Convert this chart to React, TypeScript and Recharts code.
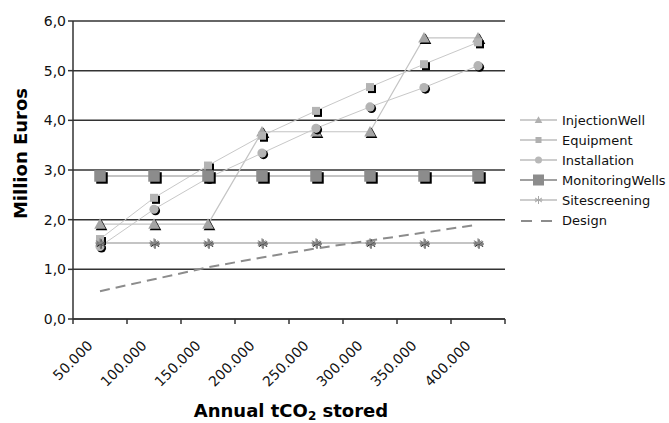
import React from 'react';
import { LineChart, Line, XAxis, YAxis, CartesianGrid, Legend } from 'recharts';

const categories = ['50.000', '100.000', '150.000', '200.000', '250.000', '300.000', '350.000', '400.000'];
const injectionWell = [1.91, 1.91, 1.91, 3.77, 3.77, 3.77, 5.66, 5.66];
const equipment = [1.61, 2.44, 3.09, 3.69, 4.19, 4.67, 5.13, 5.57];
const installation = [1.46, 2.21, 2.84, 3.34, 3.84, 4.27, 4.66, 5.1];
const monitoringWells = [2.88, 2.88, 2.88, 2.88, 2.88, 2.88, 2.88, 2.88];
const sitescreening = [1.53, 1.53, 1.53, 1.53, 1.53, 1.53, 1.53, 1.53];
const design = [0.56, 0.8, 1.04, 1.24, 1.42, 1.58, 1.74, 1.9];
const yTicks = [0, 1, 2, 3, 4, 5, 6];
const seriesNames = ['InjectionWell', 'Equipment', 'Installation', 'MonitoringWells', 'Sitescreening', 'Design'];

const data = categories.map((label, i) => ({
  label,
  InjectionWell: injectionWell[i],
  Equipment: equipment[i],
  Installation: installation[i],
  MonitoringWells: monitoringWells[i],
  Sitescreening: sitescreening[i],
  Design: design[i],
}));

const FONT = '"DejaVu Sans", Verdana, sans-serif';
const W = 669;
const H = 423;
const MARGIN = { top: 21, right: 15, bottom: 0, left: 0 };
const LEGEND_W = 149;
const Y_AXIS_W = 73;
const X_AXIS_H = 104;
const PLOT_LEFT = MARGIN.left + Y_AXIS_W;
const PLOT_RIGHT = W - MARGIN.right - LEGEND_W;
const PLOT_BOTTOM = H - MARGIN.bottom - X_AXIS_H;
const HALF_BAND = (PLOT_RIGHT - PLOT_LEFT) / categories.length / 2;
const AXIS_COLOR = '#333';

const XTick = (props: any) => {
  const { x, payload, index } = props;
  const lx = x - 6.5;
  const ly = PLOT_BOTTOM + 27.5;
  return (
    <g>
      <line x1={x - HALF_BAND} x2={x - HALF_BAND} y1={PLOT_BOTTOM} y2={PLOT_BOTTOM + 5} stroke={AXIS_COLOR} strokeWidth={1.5} />
      {index === categories.length - 1 && (
        <line x1={x + HALF_BAND} x2={x + HALF_BAND} y1={PLOT_BOTTOM} y2={PLOT_BOTTOM + 5} stroke={AXIS_COLOR} strokeWidth={1.5} />
      )}
      <text x={lx} y={ly} textAnchor="end" transform={`rotate(-45 ${lx} ${ly})`} fontSize={14} fontFamily={FONT} fill="#111">
        {payload.value}
      </text>
    </g>
  );
};

const YLabel = (props: any) => {
  const vb = props.viewBox || { x: 0, y: MARGIN.top, width: Y_AXIS_W, height: PLOT_BOTTOM - MARGIN.top };
  const cx = vb.x + 20.5;
  const cy = vb.y + vb.height / 2 - 16.5;
  return (
    <text x={cx} y={cy} transform={`rotate(-90 ${cx} ${cy})`} textAnchor="middle" dominantBaseline="central" fontSize={18} fontWeight="bold" fontFamily={FONT} fill="#000">
      Million Euros
    </text>
  );
};

const XLabel = (props: any) => {
  const vb = props.viewBox || { x: PLOT_LEFT, y: PLOT_BOTTOM, width: PLOT_RIGHT - PLOT_LEFT, height: X_AXIS_H };
  const cx = vb.x + vb.width / 2 + 2;
  const cy = vb.y + 98;
  return (
    <text x={cx} y={cy} textAnchor="middle" fontSize={18} fontWeight="bold" fontFamily={FONT} fill="#000">
      <tspan>Annual tCO</tspan>
      <tspan fontSize={12} dy={3}>2</tspan>
      <tspan dy={-3}> stored</tspan>
    </text>
  );
};

const triPath = (cx: number, cy: number, s: number) =>
  `M${cx},${cy - s} L${cx + s},${cy + s * 0.8} L${cx - s},${cy + s * 0.8} Z`;

const TriDot = (p: any) => {
  const { cx, cy, index } = p;
  if (cx == null || cy == null) return <g key={`t${index}`} />;
  return (
    <g key={`t${index}`}>
      <path d={triPath(cx + 1.5, cy + 1.5, 5.8)} fill="#000" />
      <path d={triPath(cx, cy, 5.8)} fill="#a4a4a4" />
    </g>
  );
};

const SqDot = (size: number, fill: string, off: number, prefix: string) => (p: any) => {
  const { cx, cy, index } = p;
  if (cx == null || cy == null) return <g key={`${prefix}${index}`} />;
  return (
    <g key={`${prefix}${index}`}>
      <rect x={cx - size / 2 + off} y={cy - size / 2 + off} width={size} height={size} fill="#000" />
      <rect x={cx - size / 2} y={cy - size / 2} width={size} height={size} fill={fill} />
    </g>
  );
};

const CircDot = (p: any) => {
  const { cx, cy, index } = p;
  if (cx == null || cy == null) return <g key={`c${index}`} />;
  return (
    <g key={`c${index}`}>
      <circle cx={cx + 1.5} cy={cy + 1.5} r={4.6} fill="#000" />
      <circle cx={cx} cy={cy} r={4.6} fill="#b4b4b4" />
    </g>
  );
};

const starLines = (cx: number, cy: number, r: number, stroke: string, w: number) => (
  <g stroke={stroke} strokeWidth={w}>
    <line x1={cx} y1={cy - r} x2={cx} y2={cy + r} />
    <line x1={cx - r * 0.87} y1={cy - r * 0.5} x2={cx + r * 0.87} y2={cy + r * 0.5} />
    <line x1={cx - r * 0.87} y1={cy + r * 0.5} x2={cx + r * 0.87} y2={cy - r * 0.5} />
    <line x1={cx - r} y1={cy} x2={cx + r} y2={cy} />
  </g>
);

const StarDot = (p: any) => {
  const { cx, cy, index } = p;
  if (cx == null || cy == null) return <g key={`s${index}`} />;
  return (
    <g key={`s${index}`}>
      {starLines(cx + 1, cy + 1, 4.8, '#222', 1.1)}
      {starLines(cx, cy, 4.8, '#888', 1.1)}
    </g>
  );
};

const LegendBox = () => {
  const rowY = (i: number) => 10 + i * 20;
  const lx1 = 0;
  const lx2 = 37;
  const mx = 18.5;
  return (
    <svg width={LEGEND_W} height={122} style={{ display: 'block', overflow: 'visible' }}>
      {seriesNames.map((name, i) => {
        const y = rowY(i);
        let line: React.ReactNode;
        let marker: React.ReactNode = null;
        if (name === 'Design') {
          line = <line x1={lx1 + 1} x2={lx2} y1={y + 1} y2={y + 1} stroke="#8c8c8c" strokeWidth={2} strokeDasharray="11 9" />;
        } else if (name === 'MonitoringWells') {
          line = <line x1={lx1} x2={lx2} y1={y} y2={y} stroke="#a0a0a0" strokeWidth={2} />;
          marker = <rect x={mx - 5.5} y={y - 5.5} width={11} height={11} fill="#8c8c8c" />;
        } else {
          line = <line x1={lx1} x2={lx2} y1={y} y2={y} stroke="#bdbdbd" strokeWidth={1.5} />;
          if (name === 'InjectionWell') marker = <path d={triPath(mx, y, 3.8)} fill="#b0b0b0" />;
          if (name === 'Equipment') marker = <rect x={mx - 3} y={y - 3} width={6} height={6} fill="#b0b0b0" />;
          if (name === 'Installation') marker = <circle cx={mx} cy={y} r={3.5} fill="#b8b8b8" />;
          if (name === 'Sitescreening') marker = starLines(mx, y, 4, '#a8a8a8', 1);
        }
        return (
          <g key={name}>
            {line}
            {marker}
            <text x={42} y={y} dominantBaseline="central" fontSize={13} fontFamily={FONT} fill="#111">
              {name}
            </text>
          </g>
        );
      })}
    </svg>
  );
};

export default function App() {
  return (
    <div style={{ position: 'absolute', left: 0, top: 0, width: W, height: H, background: '#fff' }}>
      <LineChart width={W} height={H} data={data} margin={MARGIN}>
        <CartesianGrid vertical={false} stroke={AXIS_COLOR} strokeWidth={1.5} />
        <XAxis
          dataKey="label"
          height={X_AXIS_H}
          padding={{ left: HALF_BAND, right: HALF_BAND }}
          interval={0}
          tickLine={false}
          axisLine={{ stroke: AXIS_COLOR, strokeWidth: 1.5 }}
          tick={(p: any) => <XTick {...p} />}
          label={{ content: (p: any) => <XLabel {...p} /> }}
        />
        <YAxis
          width={Y_AXIS_W}
          domain={[0, 6]}
          ticks={yTicks}
          interval={0}
          tickSize={5}
          tickFormatter={(v: number) => v.toFixed(1).replace('.', ',')}
          axisLine={{ stroke: AXIS_COLOR, strokeWidth: 1.5 }}
          tickLine={{ stroke: AXIS_COLOR, strokeWidth: 1.5 }}
          tick={{ fontSize: 14, fill: '#111', fontFamily: FONT }}
          label={{ content: (p: any) => <YLabel {...p} /> }}
        />
        <Legend
          layout="vertical"
          align="right"
          verticalAlign="top"
          wrapperStyle={{ top: 110, right: 0, width: LEGEND_W }}
          content={() => <LegendBox />}
        />
        <Line dataKey="InjectionWell" stroke="#c4c4c4" strokeWidth={1.2} dot={TriDot} activeDot={false} isAnimationActive={false} />
        <Line dataKey="Equipment" stroke="#c8c8c8" strokeWidth={1} dot={SqDot(8, '#b4b4b4', 2, 'e')} activeDot={false} isAnimationActive={false} />
        <Line dataKey="Installation" stroke="#c8c8c8" strokeWidth={1} dot={CircDot} activeDot={false} isAnimationActive={false} />
        <Line dataKey="MonitoringWells" stroke="#b0b0b0" strokeWidth={1.5} dot={SqDot(11.5, '#8c8c8c', 2, 'm')} activeDot={false} isAnimationActive={false} />
        <Line dataKey="Sitescreening" stroke="#b0b0b0" strokeWidth={1.5} dot={StarDot} activeDot={false} isAnimationActive={false} />
        <Line dataKey="Design" stroke="#8c8c8c" strokeWidth={2} strokeDasharray="10 6" dot={false} activeDot={false} isAnimationActive={false} />
      </LineChart>
    </div>
  );
}
